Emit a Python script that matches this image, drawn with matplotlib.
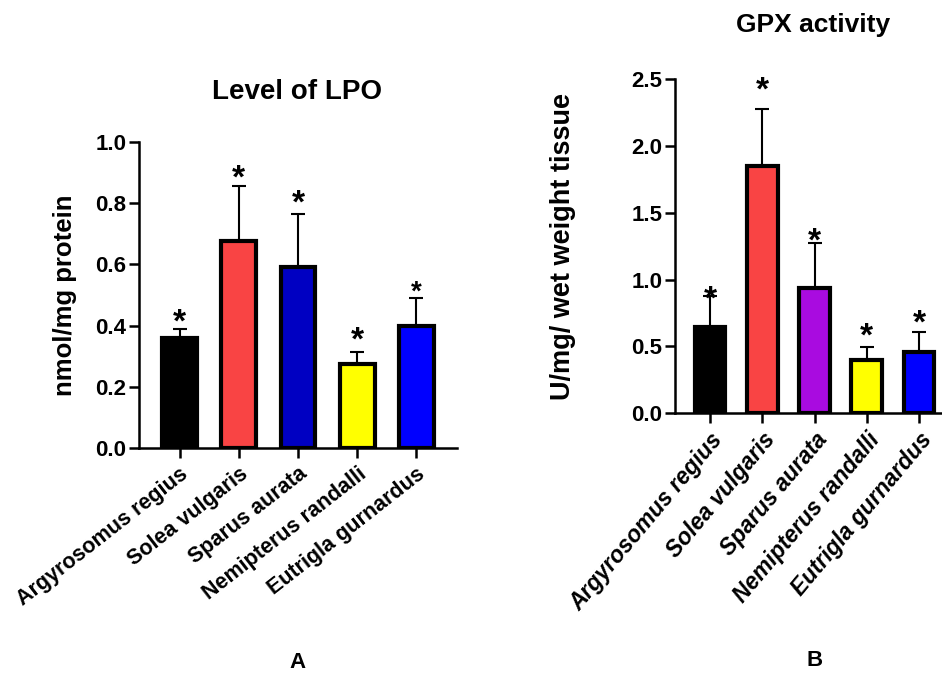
import matplotlib
matplotlib.use("Agg")
import matplotlib.pyplot as plt
import numpy as np

plt.rcParams['font.family'] = ['Liberation Sans', 'DejaVu Sans']
plt.rcParams['font.weight'] = 'bold'

species = ["Argyrosomus regius", "Solea vulgaris", "Sparus aurata",
           "Nemipterus randalli", "Eutrigla gurnardus"]

# Panel A: LPO
lpo_mean = [0.36, 0.675, 0.59, 0.275, 0.40]
lpo_err = [0.03, 0.18, 0.175, 0.04, 0.09]
lpo_star = [0.441, 0.913, 0.831, 0.382, 0.535]
lpo_star_size = [24, 24, 24, 24, 20]
lpo_colors = ["#000000", "#F94444", "#0000C2", "#FFFF00", "#0000FF"]
lpo_yticks = [0.0, 0.2, 0.4, 0.6, 0.8, 1.0]

# Panel B: GPX
gpx_mean = [0.645, 1.85, 0.935, 0.40, 0.46]
gpx_err = [0.235, 0.425, 0.34, 0.095, 0.15]
gpx_star = [0.922, 2.488, 1.354, 0.648, 0.743]
gpx_star_size = [24, 24, 24, 24, 24]
gpx_colors = ["#000000", "#F94444", "#A90BE0", "#FFFF00", "#0000FF"]
gpx_yticks = [0.0, 0.5, 1.0, 1.5, 2.0, 2.5]

W, H = 942, 675
fig = plt.figure(figsize=(W/100, H/100), dpi=100)

def panel(rect, means, errs, stars, star_sizes, colors, yticks, ylim, xlim,
          ylabel, ylabel_x, ylabel_fs, rot, xfs, italic):
    ax = fig.add_axes(rect)
    x = np.arange(len(means))
    ax.errorbar(x, means, yerr=[np.zeros(len(errs)), errs], fmt='none',
                ecolor='black', elinewidth=1.5, capsize=5, capthick=1.5, zorder=1)
    ax.bar(x, means, width=0.59, color=colors, edgecolor='black',
           linewidth=3, zorder=2)
    for xi, sy, fs in zip(x, stars, star_sizes):
        ax.annotate('*', (xi, sy), xytext=(0, -0.56*fs), textcoords='offset points',
                    ha='center', va='baseline', fontsize=fs, fontweight='bold',
                    annotation_clip=False)
    ax.set_xlim(*xlim)
    ax.set_ylim(*ylim)
    ax.set_yticks(yticks)
    ax.set_yticklabels([f"{v:.1f}" for v in yticks], fontsize=16, fontweight='bold')
    ax.set_xticks(x)
    ax.set_xticklabels(species, rotation=rot, ha='right', rotation_mode='anchor',
                       fontsize=xfs, fontweight='bold',
                       fontstyle='italic' if italic else 'normal')
    for s in ['top', 'right']:
        ax.spines[s].set_visible(False)
    for s in ['left', 'bottom']:
        ax.spines[s].set_linewidth(1.8)
    ax.tick_params(axis='both', width=1.8, length=7, direction='out')
    ax.tick_params(axis='x', pad=4)
    ax.tick_params(axis='y', pad=2)
    ax.set_ylabel(ylabel, fontsize=ylabel_fs, fontweight='bold')
    ax.yaxis.set_label_coords(ylabel_x, 0.5)
    return ax

ax1 = panel([139/W, (H-448)/H, 318/W, 306/H], lpo_mean, lpo_err, lpo_star,
            lpo_star_size, lpo_colors, lpo_yticks, (0, 1.0), (-0.684, 4.684),
            "nmol/mg protein", (77-139)/318, 18.5, 38, 15.5, False)
ax2 = panel([675/W, (H-413.3)/H, 267/W, 334.3/H], gpx_mean, gpx_err, gpx_star,
            gpx_star_size, gpx_colors, gpx_yticks, (0, 2.5), (-0.67, 4.44),
            "U/mg/ wet weight tissue", (576-675)/267, 19.5, 50, 16.5, True)

fig.text(297/W, 1-92/H, "Level of LPO", ha='center', va='center',
         fontsize=20, fontweight='bold')
fig.text(813/W, 1-25/H, "GPX activity", ha='center', va='center',
         fontsize=19, fontweight='bold')
fig.text(297/W, 1-662/H, "A", ha='center', va='center', fontsize=16, fontweight='bold')
fig.text(815/W, 1-660/H, "B", ha='center', va='center', fontsize=16, fontweight='bold')

fig.savefig("out.png", dpi=100)
